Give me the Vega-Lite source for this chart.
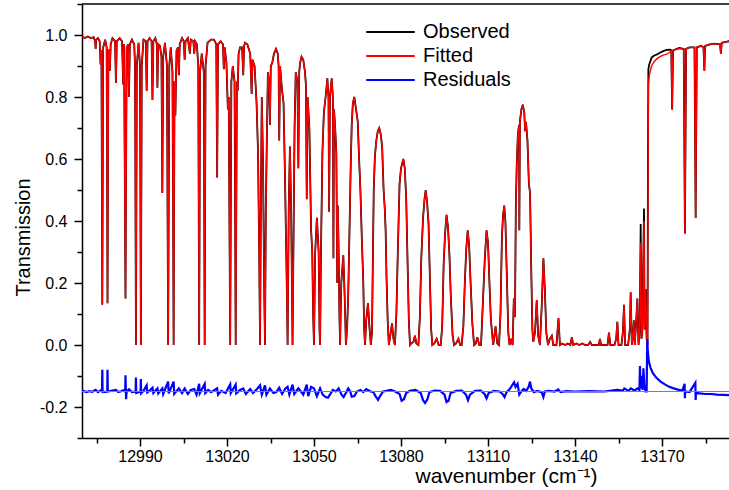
{
"$schema":"https://vega.github.io/schema/vega-lite/v6.json",
"width":647,"height":434,
"autosize":{"type":"none"},
"padding":{"left":82,"top":4,"right":0,"bottom":52},
"config":{"view":{"stroke":null},"font":"Liberation Sans"},
"resolve":{"axis":{"x":"independent","y":"independent"}},
"datasets":{
"spec":[
{"x":12969.3,"o":0.99,"f":0.99},{"x":12970.0,"o":0.995,"f":0.995},{"x":12971.0,"o":0.99,"f":0.99},{"x":12972.0,"o":0.995,"f":0.995},{"x":12973.0,"o":0.99,"f":0.99},{"x":12974.0,"o":0.993,"f":0.993},{"x":12974.5,"o":0.98,"f":0.98},{"x":12974.7,"o":0.955,"f":0.955},{"x":12974.9,"o":0.985,"f":0.985},{"x":12975.5,"o":0.99,"f":0.99},{"x":12976.1,"o":0.98,"f":0.98},{"x":12976.4,"o":0.905,"f":0.905},{"x":12976.7,"o":0.95,"f":0.95},{"x":12977.0,"o":0.13,"f":0.13},{"x":12977.3,"o":0.96,"f":0.96},{"x":12978.0,"o":0.985,"f":0.985},{"x":12978.5,"o":0.96,"f":0.96},{"x":12978.8,"o":0.135,"f":0.135},{"x":12979.1,"o":0.95,"f":0.95},{"x":12979.4,"o":0.95,"f":0.95},{"x":12979.6,"o":0.885,"f":0.885},{"x":12979.9,"o":0.97,"f":0.97},{"x":12980.5,"o":0.99,"f":0.99},{"x":12981.4,"o":0.98,"f":0.98},{"x":12981.7,"o":0.845,"f":0.845},{"x":12982.0,"o":0.98,"f":0.98},{"x":12983.0,"o":0.99,"f":0.99},{"x":12983.8,"o":0.98,"f":0.98},{"x":12984.2,"o":0.84,"f":0.84},{"x":12984.5,"o":0.97,"f":0.97},{"x":12985.0,"o":0.15,"f":0.15},{"x":12985.4,"o":0.96,"f":0.96},{"x":12985.9,"o":0.97,"f":0.97},{"x":12986.2,"o":0.80,"f":0.80},{"x":12986.5,"o":0.97,"f":0.97},{"x":12987.2,"o":0.985,"f":0.985},{"x":12988.0,"o":0.97,"f":0.97},{"x":12988.3,"o":0.9,"f":0.9},{"x":12988.6,"o":0.0,"f":0.0},{"x":12988.9,"o":0.9,"f":0.9},{"x":12989.5,"o":0.975,"f":0.975},{"x":12990.0,"o":0.9,"f":0.9},{"x":12990.3,"o":0.0,"f":0.0},{"x":12990.6,"o":0.9,"f":0.9},{"x":12991.2,"o":0.985,"f":0.985},{"x":12992.0,"o":0.98,"f":0.98},{"x":12992.3,"o":0.82,"f":0.82},{"x":12992.6,"o":0.98,"f":0.98},{"x":12993.3,"o":0.99,"f":0.99},{"x":12994.0,"o":0.98,"f":0.98},{"x":12994.3,"o":0.79,"f":0.79},{"x":12994.6,"o":0.98,"f":0.98},{"x":12995.3,"o":0.99,"f":0.99},{"x":12995.8,"o":0.97,"f":0.97},{"x":12996.0,"o":0.83,"f":0.83},{"x":12996.3,"o":0.97,"f":0.97},{"x":12996.9,"o":0.965,"f":0.965},{"x":12997.4,"o":0.93,"f":0.93},{"x":12997.7,"o":0.49,"f":0.49},{"x":12998.0,"o":0.93,"f":0.93},{"x":12998.6,"o":0.975,"f":0.975},{"x":12999.3,"o":0.9,"f":0.9},{"x":12999.7,"o":0.0,"f":0.0},{"x":13000.1,"o":0.9,"f":0.9},{"x":13000.6,"o":0.96,"f":0.96},{"x":13001.2,"o":0.88,"f":0.88},{"x":13001.6,"o":0.0,"f":0.0},{"x":13001.9,"o":0.85,"f":0.85},{"x":13002.2,"o":0.74,"f":0.74},{"x":13002.6,"o":0.95,"f":0.95},{"x":13003.1,"o":0.96,"f":0.96},{"x":13003.4,"o":0.87,"f":0.87},{"x":13003.7,"o":0.97,"f":0.97},{"x":13004.5,"o":0.99,"f":0.99},{"x":13005.1,"o":0.98,"f":0.98},{"x":13005.4,"o":0.92,"f":0.92},{"x":13005.7,"o":0.98,"f":0.98},{"x":13006.5,"o":0.99,"f":0.99},{"x":13007.2,"o":0.94,"f":0.94},{"x":13007.5,"o":0.985,"f":0.985},{"x":13008.4,"o":0.98,"f":0.98},{"x":13008.7,"o":0.94,"f":0.94},{"x":13009.0,"o":0.98,"f":0.98},{"x":13009.6,"o":0.97,"f":0.97},{"x":13010.1,"o":0.9,"f":0.9},{"x":13010.4,"o":0.0,"f":0.0},{"x":13010.7,"o":0.88,"f":0.88},{"x":13011.3,"o":0.94,"f":0.94},{"x":13012.0,"o":0.88,"f":0.88},{"x":13012.3,"o":0.0,"f":0.0},{"x":13012.6,"o":0.9,"f":0.9},{"x":13013.3,"o":0.975,"f":0.975},{"x":13014.5,"o":0.985,"f":0.985},{"x":13015.5,"o":0.985,"f":0.985},{"x":13016.3,"o":0.97,"f":0.97},{"x":13016.6,"o":0.54,"f":0.54},{"x":13016.9,"o":0.97,"f":0.97},{"x":13017.8,"o":0.98,"f":0.98},{"x":13018.6,"o":0.97,"f":0.97},{"x":13018.9,"o":0.89,"f":0.89},{"x":13019.2,"o":0.96,"f":0.96},{"x":13019.8,"o":0.91,"f":0.91},{"x":13020.3,"o":0.76,"f":0.76},{"x":13020.6,"o":0.8,"f":0.8},{"x":13021.1,"o":0.0,"f":0.0},{"x":13021.5,"o":0.85,"f":0.85},{"x":13022.0,"o":0.90,"f":0.90},{"x":13022.6,"o":0.85,"f":0.85},{"x":13023.0,"o":0.0,"f":0.0},{"x":13023.4,"o":0.85,"f":0.85},{"x":13023.7,"o":0.82,"f":0.82},{"x":13024.0,"o":0.94,"f":0.94},{"x":13024.5,"o":0.96,"f":0.96},{"x":13025.2,"o":0.96,"f":0.96},{"x":13025.6,"o":0.87,"f":0.87},{"x":13025.9,"o":0.965,"f":0.965},{"x":13026.2,"o":0.975,"f":0.975},{"x":13027.0,"o":0.97,"f":0.97},{"x":13028.0,"o":0.94,"f":0.94},{"x":13028.5,"o":0.81,"f":0.81},{"x":13028.8,"o":0.92,"f":0.92},{"x":13029.5,"o":0.90,"f":0.90},{"x":13030.2,"o":0.78,"f":0.78},{"x":13030.7,"o":0.62,"f":0.62},{"x":13031.1,"o":0.3,"f":0.3},{"x":13031.4,"o":0.0,"f":0.0},{"x":13031.7,"o":0.5,"f":0.5},{"x":13032.0,"o":0.80,"f":0.80},{"x":13032.4,"o":0.6,"f":0.6},{"x":13032.8,"o":0.2,"f":0.2},{"x":13033.1,"o":0.0,"f":0.0},{"x":13033.4,"o":0.45,"f":0.45},{"x":13033.7,"o":0.64,"f":0.64},{"x":13034.1,"o":0.88,"f":0.88},{"x":13034.5,"o":0.85,"f":0.85},{"x":13034.8,"o":0.71,"f":0.71},{"x":13035.1,"o":0.9,"f":0.9},{"x":13035.6,"o":0.91,"f":0.91},{"x":13036.2,"o":0.94,"f":0.94},{"x":13036.9,"o":0.955,"f":0.955},{"x":13037.5,"o":0.94,"f":0.94},{"x":13037.8,"o":0.9,"f":0.9},{"x":13038.0,"o":0.66,"f":0.66},{"x":13038.3,"o":0.90,"f":0.90},{"x":13038.9,"o":0.83,"f":0.83},{"x":13039.5,"o":0.78,"f":0.78},{"x":13040.0,"o":0.54,"f":0.54},{"x":13040.6,"o":0.2,"f":0.2},{"x":13040.9,"o":0.0,"f":0.0},{"x":13041.3,"o":0.45,"f":0.45},{"x":13041.7,"o":0.64,"f":0.64},{"x":13042.1,"o":0.45,"f":0.45},{"x":13042.6,"o":0.0,"f":0.0},{"x":13042.9,"o":0.3,"f":0.3},{"x":13043.3,"o":0.7,"f":0.7},{"x":13043.7,"o":0.88,"f":0.88},{"x":13044.3,"o":0.85,"f":0.85},{"x":13044.6,"o":0.57,"f":0.57},{"x":13044.9,"o":0.88,"f":0.88},{"x":13045.2,"o":0.91,"f":0.91},{"x":13045.7,"o":0.93,"f":0.93},{"x":13046.3,"o":0.92,"f":0.92},{"x":13046.9,"o":0.88,"f":0.88},{"x":13047.2,"o":0.84,"f":0.84},{"x":13047.5,"o":0.47,"f":0.47},{"x":13047.8,"o":0.80,"f":0.80},{"x":13048.4,"o":0.70,"f":0.70},{"x":13049.0,"o":0.37,"f":0.37},{"x":13049.4,"o":0.3,"f":0.3},{"x":13049.7,"o":0.1,"f":0.1},{"x":13050.0,"o":0.0,"f":0.0},{"x":13050.4,"o":0.3,"f":0.3},{"x":13051.0,"o":0.41,"f":0.41},{"x":13051.6,"o":0.3,"f":0.3},{"x":13051.9,"o":0.05,"f":0.05},{"x":13052.1,"o":0.0,"f":0.0},{"x":13052.4,"o":0.3,"f":0.3},{"x":13052.9,"o":0.62,"f":0.62},{"x":13053.4,"o":0.75,"f":0.75},{"x":13054.0,"o":0.80,"f":0.80},{"x":13054.6,"o":0.86,"f":0.86},{"x":13055.0,"o":0.80,"f":0.80},{"x":13055.2,"o":0.43,"f":0.43},{"x":13055.5,"o":0.80,"f":0.80},{"x":13056.1,"o":0.86,"f":0.86},{"x":13056.5,"o":0.8,"f":0.8},{"x":13056.7,"o":0.28,"f":0.28},{"x":13056.9,"o":0.76,"f":0.76},{"x":13057.3,"o":0.70,"f":0.70},{"x":13057.7,"o":0.62,"f":0.62},{"x":13058.0,"o":0.20,"f":0.20},{"x":13058.2,"o":0.45,"f":0.45},{"x":13058.5,"o":0.3,"f":0.3},{"x":13058.8,"o":0.08,"f":0.08},{"x":13059.0,"o":0.0,"f":0.0},{"x":13059.4,"o":0.2,"f":0.2},{"x":13060.1,"o":0.29,"f":0.29},{"x":13060.6,"o":0.15,"f":0.15},{"x":13061.0,"o":0.0,"f":0.0},{"x":13061.4,"o":0.05,"f":0.05},{"x":13061.8,"o":0.16,"f":0.16},{"x":13062.2,"o":0.35,"f":0.35},{"x":13062.6,"o":0.55,"f":0.55},{"x":13063.0,"o":0.71,"f":0.71},{"x":13063.4,"o":0.78,"f":0.78},{"x":13063.9,"o":0.80,"f":0.80},{"x":13064.5,"o":0.76,"f":0.76},{"x":13065.1,"o":0.72,"f":0.72},{"x":13065.5,"o":0.61,"f":0.61},{"x":13066.0,"o":0.50,"f":0.50},{"x":13066.5,"o":0.34,"f":0.34},{"x":13067.0,"o":0.2,"f":0.2},{"x":13067.3,"o":0.05,"f":0.05},{"x":13067.6,"o":0.0,"f":0.0},{"x":13068.0,"o":0.08,"f":0.08},{"x":13068.6,"o":0.135,"f":0.135},{"x":13069.1,"o":0.06,"f":0.06},{"x":13069.6,"o":0.0,"f":0.0},{"x":13070.0,"o":0.04,"f":0.04},{"x":13070.3,"o":0.28,"f":0.28},{"x":13070.6,"o":0.50,"f":0.50},{"x":13071.0,"o":0.61,"f":0.61},{"x":13071.5,"o":0.66,"f":0.66},{"x":13072.0,"o":0.69,"f":0.69},{"x":13072.5,"o":0.70,"f":0.70},{"x":13073.0,"o":0.68,"f":0.68},{"x":13073.5,"o":0.64,"f":0.64},{"x":13074.0,"o":0.50,"f":0.50},{"x":13074.4,"o":0.44,"f":0.44},{"x":13074.7,"o":0.37,"f":0.37},{"x":13075.0,"o":0.22,"f":0.22},{"x":13075.4,"o":0.08,"f":0.08},{"x":13075.8,"o":0.0,"f":0.0},{"x":13076.3,"o":0.03,"f":0.03},{"x":13076.9,"o":0.07,"f":0.07},{"x":13077.4,"o":0.02,"f":0.02},{"x":13077.9,"o":0.0,"f":0.0},{"x":13078.4,"o":0.1,"f":0.1},{"x":13078.9,"o":0.30,"f":0.30},{"x":13079.5,"o":0.52,"f":0.52},{"x":13080.0,"o":0.57,"f":0.57},{"x":13080.8,"o":0.60,"f":0.60},{"x":13081.3,"o":0.57,"f":0.57},{"x":13081.8,"o":0.47,"f":0.47},{"x":13082.3,"o":0.25,"f":0.25},{"x":13082.7,"o":0.08,"f":0.08},{"x":13083.1,"o":0.0,"f":0.0},{"x":13083.5,"o":0.005,"f":0.005},{"x":13084.3,"o":0.01,"f":0.01},{"x":13084.8,"o":0.03,"f":0.03},{"x":13085.3,"o":0.005,"f":0.005},{"x":13086.0,"o":0.0,"f":0.0},{"x":13086.5,"o":0.09,"f":0.09},{"x":13087.0,"o":0.28,"f":0.28},{"x":13087.6,"o":0.41,"f":0.41},{"x":13088.1,"o":0.47,"f":0.47},{"x":13088.5,"o":0.50,"f":0.50},{"x":13089.0,"o":0.46,"f":0.46},{"x":13089.5,"o":0.39,"f":0.39},{"x":13090.0,"o":0.2,"f":0.2},{"x":13090.4,"o":0.05,"f":0.05},{"x":13090.8,"o":0.0,"f":0.0},{"x":13091.5,"o":0.005,"f":0.005},{"x":13092.3,"o":0.02,"f":0.02},{"x":13093.0,"o":0.0,"f":0.0},{"x":13093.7,"o":0.0,"f":0.0},{"x":13094.2,"o":0.06,"f":0.06},{"x":13094.7,"o":0.26,"f":0.26},{"x":13095.2,"o":0.36,"f":0.36},{"x":13095.7,"o":0.42,"f":0.42},{"x":13096.2,"o":0.38,"f":0.38},{"x":13096.7,"o":0.29,"f":0.29},{"x":13097.2,"o":0.15,"f":0.15},{"x":13097.8,"o":0.03,"f":0.03},{"x":13098.3,"o":0.0,"f":0.0},{"x":13099.0,"o":0.005,"f":0.005},{"x":13099.8,"o":0.02,"f":0.02},{"x":13100.4,"o":0.0,"f":0.0},{"x":13100.9,"o":0.0,"f":0.0},{"x":13101.5,"o":0.06,"f":0.06},{"x":13102.0,"o":0.2,"f":0.2},{"x":13102.5,"o":0.31,"f":0.31},{"x":13103.0,"o":0.37,"f":0.37},{"x":13103.5,"o":0.32,"f":0.32},{"x":13104.0,"o":0.2,"f":0.2},{"x":13104.6,"o":0.07,"f":0.07},{"x":13105.2,"o":0.0,"f":0.0},{"x":13105.8,"o":0.005,"f":0.005},{"x":13106.3,"o":0.025,"f":0.025},{"x":13107.0,"o":0.0,"f":0.0},{"x":13107.6,"o":0.0,"f":0.0},{"x":13108.2,"o":0.13,"f":0.13},{"x":13108.9,"o":0.28,"f":0.28},{"x":13109.5,"o":0.37,"f":0.37},{"x":13110.0,"o":0.33,"f":0.33},{"x":13110.5,"o":0.2,"f":0.2},{"x":13111.0,"o":0.08,"f":0.08},{"x":13111.8,"o":0.0,"f":0.0},{"x":13112.6,"o":0.06,"f":0.06},{"x":13113.2,"o":0.005,"f":0.005},{"x":13113.8,"o":0.0,"f":0.0},{"x":13114.3,"o":0.1,"f":0.1},{"x":13114.8,"o":0.35,"f":0.35},{"x":13115.2,"o":0.42,"f":0.42},{"x":13115.6,"o":0.45,"f":0.45},{"x":13116.0,"o":0.40,"f":0.40},{"x":13116.5,"o":0.22,"f":0.22},{"x":13117.0,"o":0.04,"f":0.04},{"x":13117.4,"o":0.0,"f":0.0},{"x":13118.0,"o":0.02,"f":0.02},{"x":13118.5,"o":0.0,"f":0.0},{"x":13118.9,"o":0.15,"f":0.15},{"x":13119.3,"o":0.09,"f":0.09},{"x":13119.6,"o":0.45,"f":0.45},{"x":13119.9,"o":0.58,"f":0.58},{"x":13120.3,"o":0.68,"f":0.68},{"x":13120.7,"o":0.71,"f":0.71},{"x":13120.8,"o":0.37,"f":0.37},{"x":13121.0,"o":0.72,"f":0.72},{"x":13121.5,"o":0.76,"f":0.76},{"x":13122.0,"o":0.775,"f":0.775},{"x":13122.5,"o":0.75,"f":0.75},{"x":13122.8,"o":0.69,"f":0.69},{"x":13123.1,"o":0.72,"f":0.72},{"x":13123.6,"o":0.66,"f":0.66},{"x":13124.1,"o":0.52,"f":0.52},{"x":13124.5,"o":0.49,"f":0.49},{"x":13124.9,"o":0.25,"f":0.25},{"x":13125.3,"o":0.05,"f":0.05},{"x":13125.6,"o":0.01,"f":0.01},{"x":13126.2,"o":0.04,"f":0.04},{"x":13126.8,"o":0.145,"f":0.145},{"x":13127.3,"o":0.03,"f":0.03},{"x":13127.9,"o":0.0,"f":0.0},{"x":13128.5,"o":0.12,"f":0.12},{"x":13129.1,"o":0.28,"f":0.28},{"x":13129.6,"o":0.18,"f":0.18},{"x":13130.1,"o":0.04,"f":0.04},{"x":13130.7,"o":0.0,"f":0.0},{"x":13131.3,"o":0.02,"f":0.02},{"x":13132.0,"o":0.03,"f":0.03},{"x":13132.5,"o":0.0,"f":0.0},{"x":13133.6,"o":0.0,"f":0.0},{"x":13134.3,"o":0.087,"f":0.087},{"x":13134.8,"o":0.0,"f":0.0},{"x":13135.5,"o":0.005,"f":0.005},{"x":13136.6,"o":0.0,"f":0.0},{"x":13137.5,"o":0.005,"f":0.005},{"x":13138.4,"o":0.0,"f":0.0},{"x":13138.9,"o":0.025,"f":0.025},{"x":13139.4,"o":0.0,"f":0.0},{"x":13140.5,"o":0.005,"f":0.005},{"x":13141.5,"o":0.0,"f":0.0},{"x":13142.5,"o":0.005,"f":0.005},{"x":13143.5,"o":0.0,"f":0.0},{"x":13144.5,"o":0.0,"f":0.0},{"x":13145.2,"o":0.01,"f":0.01},{"x":13145.8,"o":0.0,"f":0.0},{"x":13147.0,"o":0.0,"f":0.0},{"x":13148.2,"o":0.0,"f":0.0},{"x":13148.6,"o":0.02,"f":0.02},{"x":13149.0,"o":0.0,"f":0.0},{"x":13150.2,"o":0.0,"f":0.0},{"x":13151.2,"o":0.0,"f":0.0},{"x":13151.7,"o":0.04,"f":0.04},{"x":13152.2,"o":0.0,"f":0.0},{"x":13153.6,"o":0.0,"f":0.0},{"x":13154.2,"o":0.02,"f":0.02},{"x":13154.6,"o":0.075,"f":0.075},{"x":13155.0,"o":0.0,"f":0.0},{"x":13156.0,"o":0.0,"f":0.0},{"x":13156.5,"o":0.04,"f":0.04},{"x":13156.9,"o":0.13,"f":0.13},{"x":13157.3,"o":0.0,"f":0.0},{"x":13158.3,"o":0.0,"f":0.0},{"x":13158.9,"o":0.05,"f":0.05},{"x":13159.2,"o":0.17,"f":0.17},{"x":13159.6,"o":0.0,"f":0.0},{"x":13160.0,"o":0.03,"f":0.03},{"x":13160.3,"o":0.08,"f":0.08},{"x":13160.6,"o":0.0,"f":0.0},{"x":13161.0,"o":0.06,"f":0.06},{"x":13161.5,"o":0.15,"f":0.15},{"x":13161.9,"o":0.0,"f":0.0},{"x":13162.3,"o":0.05,"f":0.05},{"x":13162.65,"o":0.39,"f":0.33},{"x":13162.9,"o":0.02,"f":0.02},{"x":13163.2,"o":0.04,"f":0.04},{"x":13163.8,"o":0.44,"f":0.40},{"x":13164.0,"o":0.05,"f":0.05},{"x":13164.2,"o":0.1,"f":0.1},{"x":13164.4,"o":0.18,"f":0.18},{"x":13164.7,"o":0.02,"f":0.02},{"x":13165.0,"o":0.0,"f":0.0},{"x":13165.15,"o":0.6,"f":0.4},{"x":13165.3,"o":0.89,"f":0.84},{"x":13165.6,"o":0.905,"f":0.87},{"x":13166.4,"o":0.927,"f":0.90},{"x":13167.2,"o":0.933,"f":0.913},{"x":13168.2,"o":0.937,"f":0.923},{"x":13169.3,"o":0.943,"f":0.93},{"x":13170.4,"o":0.948,"f":0.935},{"x":13171.6,"o":0.952,"f":0.938},{"x":13172.8,"o":0.953,"f":0.945},{"x":13173.2,"o":0.95,"f":0.95},{"x":13173.5,"o":0.76,"f":0.76},{"x":13173.8,"o":0.95,"f":0.95},{"x":13175.1,"o":0.955,"f":0.955},{"x":13176.0,"o":0.958,"f":0.956},{"x":13177.5,"o":0.955,"f":0.955},{"x":13177.9,"o":0.36,"f":0.36},{"x":13178.3,"o":0.955,"f":0.955},{"x":13179.5,"o":0.96,"f":0.96},{"x":13181.2,"o":0.96,"f":0.96},{"x":13181.6,"o":0.41,"f":0.41},{"x":13182.0,"o":0.96,"f":0.96},{"x":13183.5,"o":0.965,"f":0.965},{"x":13184.3,"o":0.96,"f":0.96},{"x":13184.6,"o":0.885,"f":0.885},{"x":13184.9,"o":0.965,"f":0.965},{"x":13186.5,"o":0.97,"f":0.97},{"x":13188.0,"o":0.972,"f":0.972},{"x":13190.0,"o":0.97,"f":0.97},{"x":13190.3,"o":0.94,"f":0.94},{"x":13190.6,"o":0.975,"f":0.975},{"x":13192.0,"o":0.978,"f":0.978},{"x":13193.2,"o":0.98,"f":0.98}
],
"res":[
{"x":12969.3,"r":-0.15},{"x":12970.5,"r":-0.148},{"x":12971.5,"r":-0.152},{"x":12972.5,"r":-0.149},{"x":12973.5,"r":-0.151},{"x":12974.7,"r":-0.145},{"x":12975.5,"r":-0.152},{"x":12976.4,"r":-0.147},{"x":12976.9,"r":-0.15},{"x":12977.0,"r":-0.08},{"x":12977.1,"r":-0.15},{"x":12978.0,"r":-0.152},{"x":12978.7,"r":-0.15},{"x":12978.8,"r":-0.08},{"x":12978.9,"r":-0.15},{"x":12980.0,"r":-0.148},{"x":12981.7,"r":-0.145},{"x":12982.5,"r":-0.152},{"x":12983.5,"r":-0.149},{"x":12984.2,"r":-0.146},{"x":12984.9,"r":-0.15},{"x":12985.0,"r":-0.098},{"x":12985.2,"r":-0.175},{"x":12985.4,"r":-0.15},{"x":12986.2,"r":-0.143},{"x":12987.2,"r":-0.152},{"x":12988.5,"r":-0.15},{"x":12988.6,"r":-0.105},{"x":12988.7,"r":-0.155},{"x":12990.2,"r":-0.15},{"x":12990.3,"r":-0.11},{"x":12990.4,"r":-0.156},{"x":12991.2,"r":-0.148},{"x":12992.3,"r":-0.13},{"x":12992.5,"r":-0.153},{"x":12993.3,"r":-0.147},{"x":12994.3,"r":-0.138},{"x":12994.6,"r":-0.155},{"x":12996.0,"r":-0.14},{"x":12996.3,"r":-0.156},{"x":12997.7,"r":-0.14},{"x":12998.0,"r":-0.158},{"x":12999.7,"r":-0.118},{"x":12999.9,"r":-0.156},{"x":13001.6,"r":-0.118},{"x":13001.8,"r":-0.158},{"x":13003.4,"r":-0.14},{"x":13004.5,"r":-0.155},{"x":13005.4,"r":-0.14},{"x":13006.5,"r":-0.158},{"x":13007.5,"r":-0.145},{"x":13008.7,"r":-0.142},{"x":13009.5,"r":-0.16},{"x":13010.4,"r":-0.125},{"x":13010.6,"r":-0.156},{"x":13012.3,"r":-0.126},{"x":13012.5,"r":-0.155},{"x":13013.5,"r":-0.145},{"x":13014.5,"r":-0.152},{"x":13016.6,"r":-0.14},{"x":13016.9,"r":-0.16},{"x":13018.0,"r":-0.148},{"x":13019.5,"r":-0.155},{"x":13021.1,"r":-0.127},{"x":13021.3,"r":-0.155},{"x":13023.0,"r":-0.128},{"x":13023.2,"r":-0.156},{"x":13024.5,"r":-0.145},{"x":13025.6,"r":-0.14},{"x":13026.5,"r":-0.158},{"x":13028.0,"r":-0.142},{"x":13029.0,"r":-0.155},{"x":13030.5,"r":-0.14},{"x":13031.4,"r":-0.13},{"x":13032.0,"r":-0.16},{"x":13033.1,"r":-0.13},{"x":13033.6,"r":-0.16},{"x":13034.8,"r":-0.14},{"x":13036.0,"r":-0.155},{"x":13037.0,"r":-0.152},{"x":13038.0,"r":-0.138},{"x":13039.0,"r":-0.158},{"x":13040.0,"r":-0.142},{"x":13040.9,"r":-0.135},{"x":13041.5,"r":-0.16},{"x":13042.6,"r":-0.128},{"x":13043.2,"r":-0.158},{"x":13044.6,"r":-0.14},{"x":13045.5,"r":-0.15},{"x":13046.3,"r":-0.16},{"x":13047.5,"r":-0.128},{"x":13048.0,"r":-0.165},{"x":13049.0,"r":-0.135},{"x":13050.0,"r":-0.14},{"x":13051.0,"r":-0.165},{"x":13052.1,"r":-0.14},{"x":13053.0,"r":-0.16},{"x":13054.0,"r":-0.168},{"x":13054.8,"r":-0.17},{"x":13055.5,"r":-0.16},{"x":13056.5,"r":-0.145},{"x":13057.5,"r":-0.15},{"x":13058.5,"r":-0.14},{"x":13059.5,"r":-0.16},{"x":13060.2,"r":-0.168},{"x":13061.0,"r":-0.155},{"x":13061.8,"r":-0.14},{"x":13062.5,"r":-0.15},{"x":13063.0,"r":-0.167},{"x":13063.9,"r":-0.165},{"x":13064.8,"r":-0.15},{"x":13066.0,"r":-0.145},{"x":13067.0,"r":-0.152},{"x":13068.0,"r":-0.142},{"x":13069.5,"r":-0.15},{"x":13070.5,"r":-0.152},{"x":13071.2,"r":-0.165},{"x":13072.1,"r":-0.177},{"x":13072.9,"r":-0.163},{"x":13073.8,"r":-0.15},{"x":13075.0,"r":-0.148},{"x":13076.5,"r":-0.145},{"x":13078.0,"r":-0.15},{"x":13079.5,"r":-0.158},{"x":13080.2,"r":-0.18},{"x":13081.0,"r":-0.175},{"x":13081.8,"r":-0.155},{"x":13083.0,"r":-0.148},{"x":13085.0,"r":-0.145},{"x":13086.8,"r":-0.155},{"x":13087.6,"r":-0.178},{"x":13088.3,"r":-0.187},{"x":13089.1,"r":-0.175},{"x":13089.8,"r":-0.152},{"x":13091.5,"r":-0.147},{"x":13093.5,"r":-0.148},{"x":13095.0,"r":-0.16},{"x":13095.7,"r":-0.184},{"x":13096.4,"r":-0.18},{"x":13097.1,"r":-0.155},{"x":13099.0,"r":-0.148},{"x":13101.0,"r":-0.147},{"x":13102.4,"r":-0.16},{"x":13103.1,"r":-0.178},{"x":13103.8,"r":-0.16},{"x":13105.5,"r":-0.148},{"x":13107.5,"r":-0.147},{"x":13108.8,"r":-0.158},{"x":13109.5,"r":-0.172},{"x":13110.2,"r":-0.155},{"x":13112.0,"r":-0.148},{"x":13114.0,"r":-0.15},{"x":13115.0,"r":-0.158},{"x":13115.7,"r":-0.168},{"x":13116.4,"r":-0.152},{"x":13117.5,"r":-0.142},{"x":13118.3,"r":-0.13},{"x":13119.0,"r":-0.12},{"x":13119.5,"r":-0.135},{"x":13120.2,"r":-0.125},{"x":13120.8,"r":-0.16},{"x":13121.5,"r":-0.15},{"x":13122.3,"r":-0.142},{"x":13123.2,"r":-0.148},{"x":13124.0,"r":-0.135},{"x":13124.5,"r":-0.118},{"x":13124.9,"r":-0.14},{"x":13125.8,"r":-0.152},{"x":13127.0,"r":-0.148},{"x":13128.5,"r":-0.152},{"x":13129.1,"r":-0.168},{"x":13129.6,"r":-0.15},{"x":13131.0,"r":-0.148},{"x":13133.0,"r":-0.15},{"x":13134.2,"r":-0.143},{"x":13135.0,"r":-0.152},{"x":13137.0,"r":-0.149},{"x":13140.0,"r":-0.15},{"x":13145.0,"r":-0.149},{"x":13150.0,"r":-0.15},{"x":13152.0,"r":-0.148},{"x":13154.5,"r":-0.145},{"x":13156.5,"r":-0.147},{"x":13157.0,"r":-0.14},{"x":13158.5,"r":-0.148},{"x":13159.2,"r":-0.14},{"x":13160.5,"r":-0.147},{"x":13161.5,"r":-0.14},{"x":13162.2,"r":-0.145},{"x":13162.4,"r":-0.068},{"x":13162.6,"r":-0.14},{"x":13163.0,"r":-0.1},{"x":13163.3,"r":-0.145},{"x":13163.6,"r":-0.075},{"x":13163.9,"r":-0.13},{"x":13164.3,"r":-0.15},{"x":13164.7,"r":-0.15},{"x":13164.9,"r":0.018},{"x":13165.1,"r":-0.02},{"x":13165.5,"r":-0.055},{"x":13166.0,"r":-0.072},{"x":13166.8,"r":-0.09},{"x":13168.0,"r":-0.105},{"x":13169.5,"r":-0.118},{"x":13171.0,"r":-0.127},{"x":13172.5,"r":-0.135},{"x":13174.0,"r":-0.14},{"x":13175.5,"r":-0.144},{"x":13177.0,"r":-0.147},{"x":13177.8,"r":-0.125},{"x":13177.9,"r":-0.172},{"x":13178.0,"r":-0.15},{"x":13179.5,"r":-0.152},{"x":13181.5,"r":-0.122},{"x":13181.6,"r":-0.177},{"x":13181.7,"r":-0.155},{"x":13183.0,"r":-0.156},{"x":13185.0,"r":-0.158},{"x":13187.0,"r":-0.158},{"x":13189.0,"r":-0.16},{"x":13191.0,"r":-0.161},{"x":13193.2,"r":-0.162}
]
},
"layer":[
{
"data":{"name":"spec"},
"mark":{"type":"line","strokeWidth":1.8,"clip":true},
"encoding":{
"x":{"field":"x","type":"quantitative","scale":{"domain":[12970,13193.1],"nice":false,"zero":false},
"axis":{"orient":"bottom","title":"wavenumber (cm\u207b\u00b9)","titleFontSize":21,"titleFontWeight":"normal","titleColor":"black","titleX":424,"titleY":44,"titleAlign":"center","titleBaseline":"alphabetic",
"values":[12990,13020,13050,13080,13110,13140,13170],
"format":"d","labelFontSize":16,"labelColor":"black","labelPadding":2,"labelFlush":false,
"grid":false,"domainColor":"black","domainWidth":1.5,"tickColor":"black","tickWidth":1.5,"tickSize":8}},
"y":{"field":"o","type":"quantitative","scale":{"domain":[-0.3,1.1],"nice":false,"zero":false},
"axis":{"orient":"left","title":"Transmission","titleFontSize":20,"titleFontWeight":"normal","titleColor":"black","titleX":-53,"titleY":233,"titleAlign":"center","titleBaseline":"alphabetic",
"values":[-0.2,0,0.2,0.4,0.6,0.8,1.0],
"format":".1f","labelExpr":"replace(datum.label, '\u2212', '-')","labelFontSize":16,"labelColor":"black","labelPadding":7,"labelFlush":false,
"grid":false,"domainColor":"black","domainWidth":1.5,"tickColor":"black","tickWidth":1.5,"tickSize":8}},
"color":{"datum":"Observed","type":"nominal","scale":{"domain":["Observed","Fitted","Residuals"],"range":["#000000","#ff0000","#0000ff"]},
"legend":{"title":null,"orient":"none","legendX":298.5,"legendY":18,"symbolType":"M-4.85,0H4.85","symbolSize":100,"symbolStrokeWidth":2,"labelFontSize":20,"labelColor":"black","labelOffset":22.5,"rowPadding":4,"padding":0}}
}
},
{
"data":{"name":"spec"},
"mark":{"type":"line","strokeWidth":1.4,"clip":true},
"encoding":{
"x":{"field":"x","type":"quantitative","axis":{"orient":"bottom","title":null,"values":[12975,13005,13035,13065,13095,13125,13155,13185],"labels":false,"domain":false,"grid":false,"tickColor":"black","tickWidth":1.5,"tickSize":5}},
"y":{"field":"f","type":"quantitative","axis":{"orient":"left","title":null,"values":[-0.3,-0.1,0.1,0.3,0.5,0.7,0.9,1.1],"labels":false,"domain":false,"grid":false,"tickColor":"black","tickWidth":1.5,"tickSize":5}},
"color":{"datum":"Fitted","type":"nominal"}
}
},
{
"data":{"name":"res"},
"mark":{"type":"line","strokeWidth":2.2,"clip":true},
"encoding":{
"x":{"field":"x","type":"quantitative","axis":null},
"y":{"field":"r","type":"quantitative","axis":null},
"color":{"datum":"Residuals","type":"nominal"}
}
},
{
"data":{"values":[{}]},
"mark":{"type":"rule","color":"#808080","strokeWidth":1.2},
"encoding":{"y":{"datum":-0.15,"type":"quantitative","axis":null}}
},
{
"data":{"values":[{}]},
"mark":{"type":"rule","color":"black","strokeWidth":1.5},
"encoding":{"y":{"datum":1.1,"type":"quantitative","axis":null}}
}
]
}
